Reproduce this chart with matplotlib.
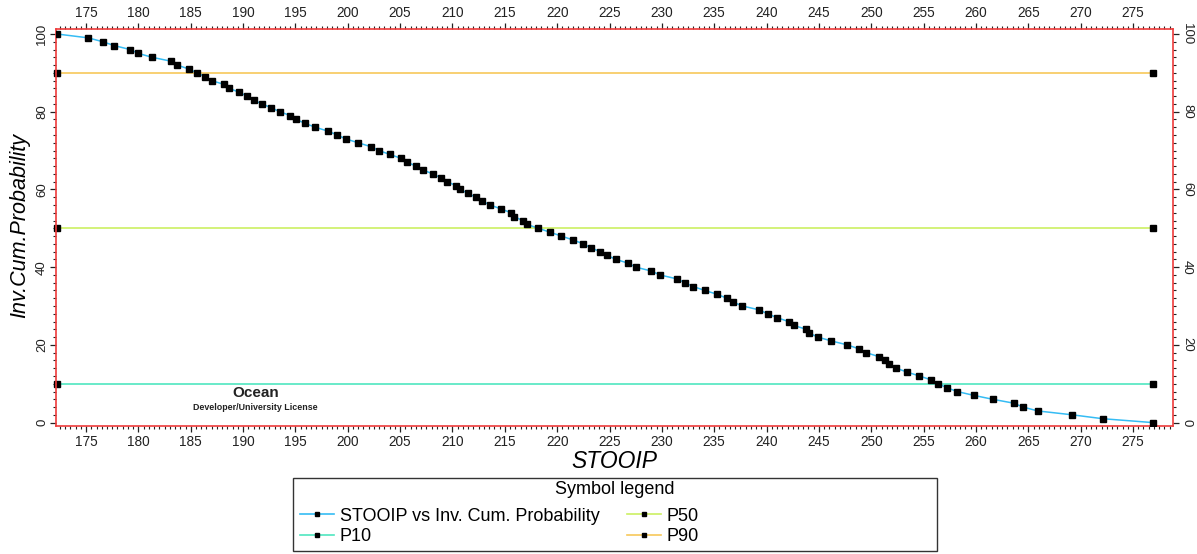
import matplotlib
matplotlib.use("Agg")
import matplotlib.pyplot as plt
from matplotlib.lines import Line2D
from matplotlib.patches import Rectangle
from matplotlib.ticker import MultipleLocator

plt.rcParams['font.family'] = ['Liberation Sans', 'DejaVu Sans']

# inverse cumulative probability (%) and the sorted STOOIP values
inv_cum_prob = [100, 99, 98, 97, 96, 95, 94, 93, 92, 91,
                90, 89, 88, 87, 86, 85, 84, 83, 82, 81,
                80, 79, 78, 77, 76, 75, 74, 73, 72, 71,
                70, 69, 68, 67, 66, 65, 64, 63, 62, 61,
                60, 59, 58, 57, 56, 55, 54, 53, 52, 51,
                50, 49, 48, 47, 46, 45, 44, 43, 42, 41,
                40, 39, 38, 37, 36, 35, 34, 33, 32, 31,
                30, 29, 28, 27, 26, 25, 24, 23, 22, 21,
                20, 19, 18, 17, 16, 15, 14, 13, 12, 11,
                10, 9, 8, 7, 6, 5, 4, 3, 2, 1, 0]
stooip = [172.2, 175.2, 176.6, 177.7, 179.2, 180.0, 181.3, 183.1, 183.7, 184.8,
          185.6, 186.4, 187.0, 188.2, 188.7, 189.6, 190.4, 191.0, 191.8, 192.7,
          193.5, 194.5, 195.1, 195.9, 196.9, 198.1, 199.0, 199.8, 201.0, 202.2,
          203.0, 204.0, 205.1, 205.7, 206.5, 207.2, 208.1, 208.9, 209.5, 210.3,
          210.7, 211.5, 212.2, 212.8, 213.6, 214.6, 215.6, 215.9, 216.7, 217.1,
          218.2, 219.3, 220.4, 221.5, 222.5, 223.2, 224.1, 224.8, 225.6, 226.8,
          227.5, 229.0, 229.8, 231.4, 232.2, 233.0, 234.1, 235.3, 236.2, 236.8,
          237.7, 239.3, 240.1, 241.0, 242.1, 242.6, 243.8, 244.1, 244.9, 246.2,
          247.7, 248.8, 249.5, 250.7, 251.3, 251.7, 252.4, 253.4, 254.6, 255.7,
          256.4, 257.2, 258.2, 259.8, 261.6, 263.6, 264.5, 265.9, 269.2, 272.1, 276.9]

p_names = ['P10', 'P50', 'P90']
p_levels = [10, 50, 90]
p_colors = ['#4FE6C0', '#CCF062', '#F7C85A']
curve_color = '#35BCF4'
frame_red = '#EE3B3B'
W, H = 1197, 554

fig = plt.figure(figsize=(W / 100, H / 100), dpi=100, facecolor='white')
ax = fig.add_axes([55.7 / W, 1 - 425.7 / H, (1173.3 - 55.7) / W, (425.7 - 29.3) / H])

ax.plot(stooip, inv_cum_prob, color=curve_color, lw=1.1, marker='s', ms=4.5,
        mfc='black', mec='black', zorder=3)
for level, c in zip(p_levels, p_colors):
    ax.plot([stooip[0], stooip[-1]], [level, level], color=c, lw=1.2, marker='s',
            ms=4.5, mfc='black', mec='black', clip_on=False, zorder=2)

ax.set_xlim(172.1, 278.85)
ax.set_ylim(-0.8, 101.2)

# frame and ticks on all four sides
ax.xaxis.set_major_locator(MultipleLocator(5))
ax.xaxis.set_minor_locator(MultipleLocator(0.5))
ax.yaxis.set_major_locator(MultipleLocator(20))
ax.yaxis.set_minor_locator(MultipleLocator(2))
for s in ax.spines.values():
    s.set_color(frame_red)
    s.set_linewidth(1.2)
ax.tick_params(which='both', direction='out', colors='#222222', labelsize=9.8,
               top=True, right=True, labeltop=True, labelright=True, pad=3)
ax.tick_params(which='major', length=4, width=0.9)
ax.tick_params(which='minor', length=2.4, width=0.8)
ax.tick_params(axis='y', labelrotation=90, labelsize=9.5, pad=1.5)
for t in ax.yaxis.get_major_ticks():
    t.label1.set_verticalalignment('center')
    t.label2.set_rotation(-90)
    t.label2.set_verticalalignment('center')

fig.text(614 / W, 1 - 461 / H, 'STOOIP', ha='center', va='center',
         fontsize=16.5, style='italic')
fig.text(20 / W, 1 - 226 / H, 'Inv.Cum.Probability', ha='center', va='center',
         rotation=90, fontsize=15.5, style='italic')

# watermark
ax.text(0.179, 0.0825, 'Ocean', transform=ax.transAxes, ha='center', va='center',
        fontsize=11, fontweight='bold', color='#222222')
ax.text(0.179, 0.0454, 'Developer/University License', transform=ax.transAxes,
        ha='center', va='center', fontsize=6.4, fontweight='bold', color='#222222')

# symbol legend box
handles = [Line2D([], [], color=curve_color, lw=1.2, marker='s', ms=3, mfc='black', mec='black')]
labels = ['STOOIP vs Inv. Cum. Probability']
for name, c in zip(p_names, p_colors):
    handles.append(Line2D([], [], color=c, lw=1.2, marker='s', ms=3, mfc='black', mec='black'))
    labels.append(name)
fig.legend(handles, labels, ncol=2, loc='center left', bbox_to_anchor=(300 / W, 1 - 526.5 / H),
           frameon=False, fontsize=13, borderpad=0, borderaxespad=0, handlelength=1.9,
           handletextpad=0.3, columnspacing=1.5, labelspacing=0.22, numpoints=1)
fig.text(615 / W, 1 - 490 / H, 'Symbol legend', ha='center', va='center', fontsize=13)
fig.patches.append(Rectangle((293 / W, 1 - 551 / H), (937 - 293) / W, (551 - 478) / H,
                             transform=fig.transFigure, fill=False, ec='#333333', lw=1))

fig.savefig('out.png', dpi=100, facecolor='white')
